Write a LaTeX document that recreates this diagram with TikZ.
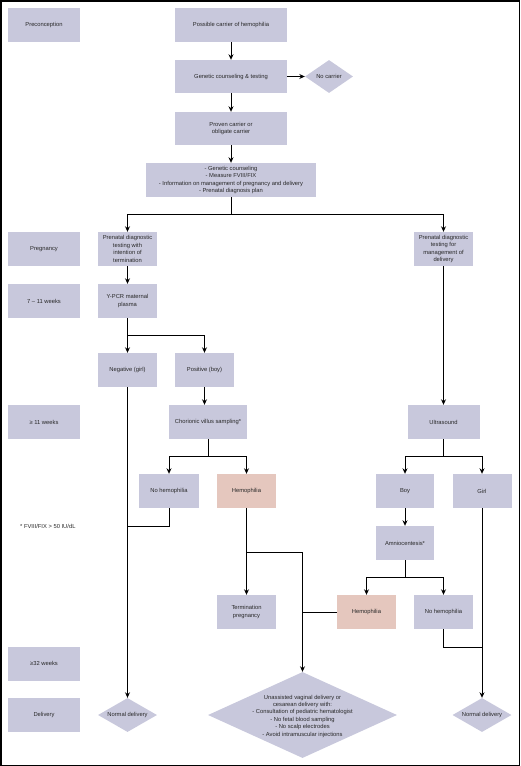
\documentclass[tikz,border=0pt]{standalone}
\usepackage{fontspec}
\setmainfont{Liberation Sans}
\usetikzlibrary{shapes.geometric,arrows.meta}
\definecolor{lav}{RGB}{200,200,220}
\definecolor{pinkbox}{RGB}{229,199,190}
\definecolor{txt}{RGB}{40,40,40}
\begin{document}
\begin{tikzpicture}[x=1pt,y=-1pt,
  every node/.style={font=\fontsize{5.8}{7.4}\selectfont, text=txt, align=center, inner sep=0pt},
  box/.style={rectangle, fill=lav, minimum height=34pt},
  pbox/.style={rectangle, fill=pinkbox, minimum height=34pt},
  lab/.style={rectangle, fill=lav, minimum width=72pt, minimum height=34pt},
  dia/.style={diamond, fill=lav, aspect=2},
  arr/.style={-{Stealth[length=5.5pt,width=5pt]}, line width=1pt},
  ln/.style={line width=1pt}]
\useasboundingbox (0,0) rectangle (520,766);
\draw[line width=1.5pt] (0.75,0.75) rectangle (519.25,765.25);
% left labels
\node[lab] (pre) at (44,25) {Preconception};
\node[lab] (preg) at (44,249) {Pregnancy};
\node[lab] (w7) at (44,301) {7 -- 11 weeks};
\node[lab] (w11) at (44,422) {≥ 11 weeks};
\node[lab] (w32) at (44,663.5) {≥32 weeks};
\node[lab] (deliv) at (44,715) {Delivery};
\node[anchor=west] (foot) at (20,526) {* FVIII/FIX > 50 IU/dL};
% main nodes
\node[box, minimum width=112pt] (poss) at (231,25) {Possible carrier of hemophilia};
\node[box, minimum width=112pt, minimum height=33pt] (gct) at (231,76.5) {Genetic counseling \& testing};
\node[dia, minimum width=48pt, minimum height=33pt] (nocar) at (329,76.5) {No carrier};
\node[box, minimum width=112pt, minimum height=33pt] (proven) at (231,128.5) {Proven carrier or\\obligate carrier};
\node[box, minimum width=170pt] (info) at (231,180) {- Genetic counseling\\- Measure FVIII/FIX\\- Information on management of pregnancy and delivery\\- Prenatal diagnosis plan};
\node[box, minimum width=59pt] (pdt) at (127.5,249) {Prenatal diagnostic\\testing with\\intention of\\termination};
\node[box, minimum width=59pt] (pdm) at (443.5,249) {Prenatal diagnostic\\testing for\\management of\\delivery};
\node[box, minimum width=59pt] (ypcr) at (127.5,301) {Y-PCR maternal\\plasma};
\node[box, minimum width=59pt] (neg) at (127.5,370) {Negative (girl)};
\node[box, minimum width=59pt] (pos) at (204.5,370) {Positive (boy)};
\node[box, minimum width=78pt] (cvs) at (208,422) {Chorionic villus sampling*};
\node[box, minimum width=60pt] (nohem1) at (169,491) {No hemophilia};
\node[pbox, minimum width=59pt] (hem1) at (246.5,491) {Hemophilia};
\node[box, minimum width=59pt] (term) at (246.5,612) {Termination\\pregnancy};
\node[pbox, minimum width=59pt] (hem2) at (366.5,612) {Hemophilia};
\node[box, minimum width=59pt] (nohem2) at (443.5,612) {No hemophilia};
\node[box, minimum width=72pt] (us) at (443.5,422) {Ultrasound};
\node[box, minimum width=58pt] (boy) at (405,491) {Boy};
\node[box, minimum width=59pt] (girl) at (482,491) {Girl};
\node[box, minimum width=58pt] (amnio) at (405,543) {Amniocentesis*};
\node[dia, minimum width=59pt, minimum height=34pt] (nd1) at (127.5,715) {Normal delivery};
\node[dia, minimum width=59pt, minimum height=34pt] (nd2) at (482,715) {Normal delivery};
\node[diamond, fill=lav, minimum width=189pt, minimum height=86pt] (big) at (302.5,715) {};
\node (bigtxt) at (302.5,716) {Unassisted vaginal delivery or\\cesarean delivery with:\\- Consultation of pediatric hematologist\\- No fetal blood sampling\\- No scalp electrodes\\- Avoid intramuscular injections};
% junctions
\coordinate (j1) at (231,214);
\coordinate (j2) at (127.5,335);
\coordinate (j3) at (208,456);
\coordinate (j4) at (246.5,552);
\coordinate (j5) at (443.5,456);
\coordinate (j6) at (405,577);
\coordinate (jn1) at (127.5,526);
\coordinate (jh2) at (302.5,612);
\coordinate (jn2) at (482,647);
% connectors
\draw[arr] (poss) -- (gct);
\draw[arr] (gct) -- (nocar);
\draw[arr] (gct) -- (proven);
\draw[arr] (proven) -- (info);
\draw[ln] (info.south) -- (j1);
\draw[arr] (j1) -| (pdt.north);
\draw[arr] (j1) -| (pdm.north);
\draw[arr] (pdt) -- (ypcr);
\draw[ln] (ypcr.south) -- (j2);
\draw[arr] (j2) -- (neg.north);
\draw[arr] (j2) -| (pos.north);
\draw[arr] (pos.south) -- (pos.south |- cvs.north);
\draw[ln] (cvs.south) -- (j3);
\draw[arr] (j3) -| (nohem1.north);
\draw[arr] (j3) -| (hem1.north);
\draw[arr] (neg.south) -- (nd1.north);
\draw[ln] (nohem1.south) |- (jn1);
\draw[arr] (hem1.south) -- (term.north);
\draw[arr] (j4) -| (big.north);
\draw[ln] (hem2.west) -- (jh2);
\draw[arr] (pdm.south) -- (us.north);
\draw[ln] (us.south) -- (j5);
\draw[arr] (j5) -| (boy.north);
\draw[arr] (j5) -| (girl.north);
\draw[arr] (boy) -- (amnio);
\draw[ln] (amnio.south) -- (j6);
\draw[arr] (j6) -| (hem2.north);
\draw[arr] (j6) -| (nohem2.north);
\draw[arr] (girl.south) -- (nd2.north);
\draw[ln] (nohem2.south) |- (jn2);
\end{tikzpicture}
\end{document}
